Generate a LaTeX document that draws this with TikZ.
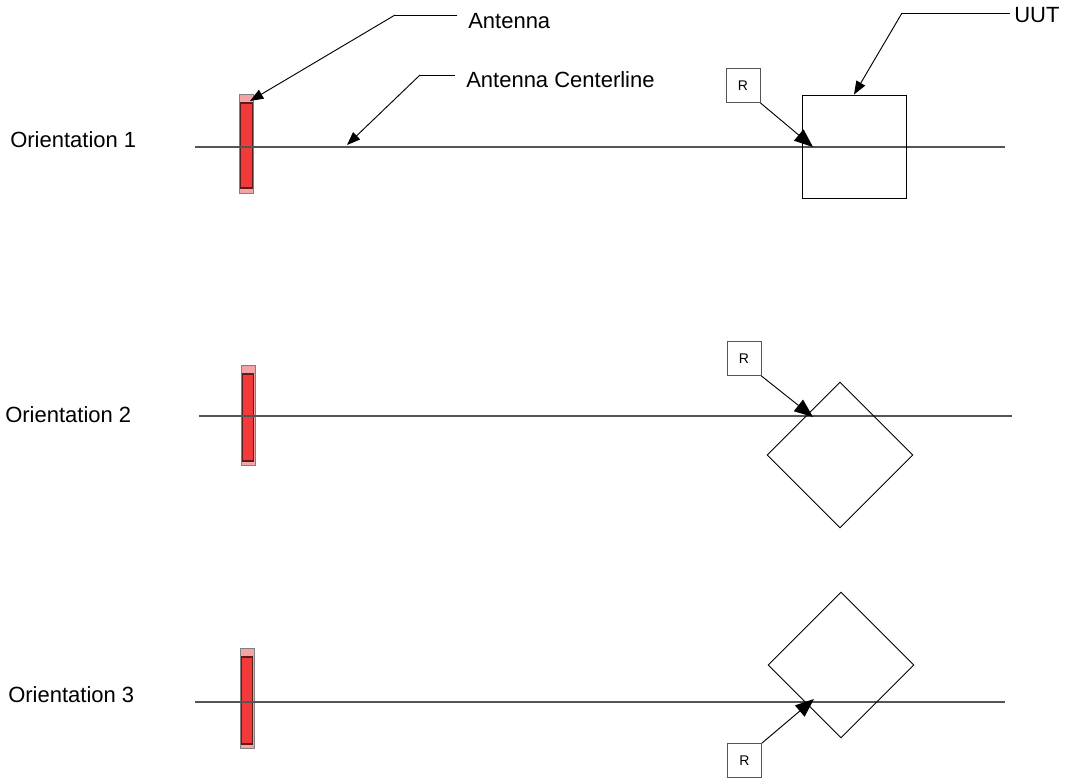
\documentclass[tikz,border=0pt]{standalone}
\usepackage{fontspec}
\setmainfont{Liberation Sans}
\usetikzlibrary{arrows.meta,shapes.geometric}
\definecolor{antpink}{HTML}{F4A4A4}
\definecolor{antred}{HTML}{F23A3A}
\definecolor{antdark}{HTML}{5A1E1E}
\definecolor{linegray}{HTML}{555555}
\begin{document}
\begin{tikzpicture}[x=0.75pt,y=-0.75pt,
  lbl/.style={inner sep=0pt,font=\fontsize{16.5}{20}\selectfont,anchor=base west},
  rbox/.style={draw=linegray,line width=0.75pt,minimum size=25.5pt,inner sep=0pt,font=\fontsize{10.5}{12}\selectfont,fill=white},
  centerln/.style={draw=linegray,line width=0.9pt},
  uutbox/.style={draw=black,line width=0.7pt,minimum width=78pt,minimum height=77.25pt,inner sep=0pt},
  uutdia/.style={draw=black,line width=0.7pt,diamond,minimum width=109.5pt,minimum height=109.5pt,inner sep=0pt},
  antout/.style={draw=gray,fill=antpink,line width=0.6pt,minimum width=10.5pt,inner sep=0pt},
  antin/.style={draw=antdark,fill=antred,line width=0.8pt,minimum width=8.5pt,inner sep=0pt},
  arr/.style={draw=black,line width=0.7pt,-{Triangle[length=10pt,width=7.5pt]}},
  rarr/.style={draw=black,line width=0.7pt,-{Triangle[length=14pt,width=11pt]}},
  leader/.style={draw=black,line width=0.7pt}
]
\useasboundingbox (0,0) rectangle (1069,778);

% ---------- Orientation 1 ----------
\node[lbl] (o1) at (10,147) {Orientation 1};
\coordinate (l1a) at (195,147);
\coordinate (l1b) at (1005,147);
\node[antout,minimum height=74.25pt] (a1) at (246.5,143.5) {};
\node[antin,minimum height=63.75pt] (a1i) at (246.5,145.5) {};
\draw[centerln] (l1a) -- (l1b);
\node[uutbox] (u1) at (854,146.5) {};
\node[rbox] (r1) at (743,85.5) {R};
\coordinate (t1) at (813,147);
\draw[rarr] (r1.south east) -- (t1);

% leaders
\node[lbl] (antlbl) at (468,28) {Antenna};
\coordinate (antk) at (395,15);
\coordinate (antt) at (250,101);
\draw[leader] ([xshift=-8]antlbl.west |- antk) -- (antk);
\draw[arr] (antk) -- (antt);

\node[lbl] (cllbl) at (466,87) {Antenna Centerline};
\coordinate (clk) at (420,75);
\coordinate (clt) at (347,145);
\draw[leader] ([xshift=-8]cllbl.west |- clk) -- (clk);
\draw[arr] (clk) -- (clt);

\node[lbl] (uutlbl) at (1014,22) {UUT};
\coordinate (uk) at (902,13);
\draw[leader] ([xshift=-3]uutlbl.west |- uk) -- (uk);
\draw[arr] (uk) -- (u1.north);

% ---------- Orientation 2 ----------
\node[lbl] (o2) at (5,422) {Orientation 2};
\coordinate (l2a) at (199,416);
\coordinate (l2b) at (1012,416);
\node[antout,minimum height=75pt] (a2) at (248,415) {};
\node[antin,minimum height=65.25pt] (a2i) at (248,417.5) {};
\draw[centerln] (l2a) -- (l2b);
\node[uutdia] (u2) at (840,455) {};
\node[rbox] (r2) at (744,358.5) {R};
\coordinate (t2) at (813,417);
\draw[rarr] (r2.south east) -- (t2);

% ---------- Orientation 3 ----------
\node[lbl] (o3) at (8,702) {Orientation 3};
\coordinate (l3a) at (195,702);
\coordinate (l3b) at (1005,702);
\node[antout,minimum height=75pt] (a3) at (247,698) {};
\node[antin,minimum height=65.25pt] (a3i) at (247,700.5) {};
\draw[centerln] (l3a) -- (l3b);
\node[uutdia] (u3) at (841,665) {};
\node[rbox] (r3) at (744.5,760.5) {R};
\coordinate (t3) at (814,699);
\draw[rarr] (r3.north east) -- (t3);
\end{tikzpicture}
\end{document}
